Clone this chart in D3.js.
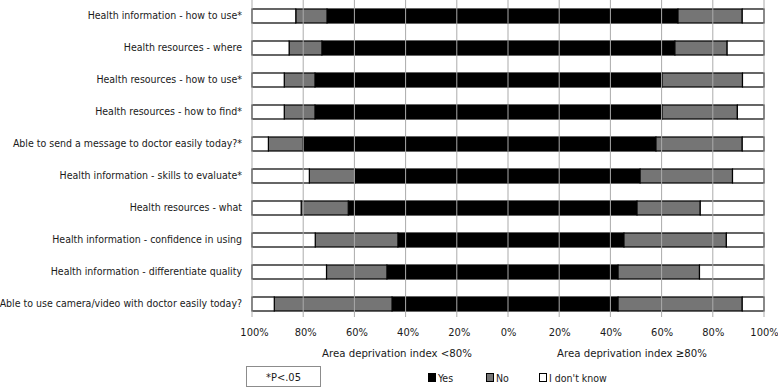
<!DOCTYPE html>
<html>
<head>
<meta charset="utf-8">
<script src="https://cdn.jsdelivr.net/npm/d3@7"></script>
<style>
  body { margin: 0; background: #fff; }
  svg text { font-family: "Liberation Sans Narrow", "DejaVu Sans Condensed", "Liberation Sans", sans-serif; font-stretch: condensed; fill: #1a1a1a; }
</style>
</head>
<body>
<div class="graph"></div>
<script>
const categories = [
  "Health information - how to use*",
  "Health resources - where",
  "Health resources - how to use*",
  "Health resources - how to find*",
  "Able to send a message to doctor easily today?*",
  "Health information - skills to evaluate*",
  "Health resources - what",
  "Health information - confidence in using",
  "Health information - differentiate quality",
  "Able to use camera/video with doctor easily today?"
];

// Area deprivation index <80% (left side)
const leftYes = [70.7, 72.7, 75.4, 75.4, 80.1, 59.8, 62.4, 43.0, 47.3, 45.3];
const leftNo  = [12.2, 12.8, 12.0, 12.0, 13.5, 17.8, 18.4, 32.3, 23.6, 46.0];
const leftDK  = [17.1, 14.5, 12.6, 12.6, 6.4, 22.4, 19.2, 24.7, 29.1, 8.7];

// Area deprivation index >=80% (right side)
const rightYes = [66.4, 65.2, 60.2, 60.2, 57.8, 51.6, 50.4, 45.3, 43.0, 43.0];
const rightNo  = [25.1, 20.4, 31.4, 29.4, 33.7, 36.1, 24.7, 40.0, 31.8, 48.5];
const rightDK  = [8.5, 14.4, 8.4, 10.4, 8.5, 12.3, 24.9, 14.7, 25.2, 8.5];

const leftTicks = [100, 80, 60, 40, 20];
const rightTicks = [0, 20, 40, 60, 80, 100];
const groupTitles = ["Area deprivation index <80%", "Area deprivation index \u226580%"];
const legendKeys = ["Yes", "No", "I don't know"];
const note = "*P<.05";

const width = 778, height = 388;
const plot = {left: 252, center: 508, right: 764, top: 0, bottom: 320};

const svg = d3.select(".graph").append("svg")
  .attr("width", width)
  .attr("height", height);

const keys = ["yes", "no", "dk"];
const colors = d3.scaleOrdinal().domain(keys).range(["#000000", "#757575", "#ffffff"]);

const xL = d3.scaleLinear().domain([100, 0]).range([plot.left, plot.center]);
const xR = d3.scaleLinear().domain([0, 100]).range([plot.center, plot.right]);
const y = d3.scaleBand().domain(categories).range([plot.top, plot.bottom])
  .paddingInner(0.5625).paddingOuter(0.28125);

const leftRows = categories.map((c, i) => ({cat: c, yes: leftYes[i], no: leftNo[i], dk: leftDK[i]}));
const rightRows = categories.map((c, i) => ({cat: c, yes: rightYes[i], no: rightNo[i], dk: rightDK[i]}));

const stack = d3.stack().keys(keys);

function drawSide(rows, x){
  const series = stack(rows);
  const g = svg.append("g");
  g.selectAll("g")
      .data(series)
    .enter().append("g")
      .attr("fill", d => colors(d.key))
    .selectAll("rect")
      .data(d => d)
    .enter().append("rect")
      .attr("x", d => Math.min(x(d[0]), x(d[1])))
      .attr("width", d => Math.abs(x(d[1]) - x(d[0])))
      .attr("y", d => y(d.data.cat))
      .attr("height", y.bandwidth())
      .attr("stroke", "#000")
      .attr("stroke-width", 1.2);
}

drawSide(leftRows, xL);
drawSide(rightRows, xR);

// gridlines drawn over the bars
const grid = svg.append("g").attr("stroke", "#ababab").attr("stroke-width", 1);
grid.selectAll("line.l")
    .data(leftTicks)
  .enter().append("line")
    .attr("x1", d => xL(d)).attr("x2", d => xL(d))
    .attr("y1", plot.top).attr("y2", 317);
grid.selectAll("line.r")
    .data(rightTicks.filter(d => d > 0))
  .enter().append("line")
    .attr("x1", d => xR(d)).attr("x2", d => xR(d))
    .attr("y1", plot.top).attr("y2", 317);
grid.append("line")
    .attr("x1", xR(0)).attr("x2", xR(0))
    .attr("y1", plot.top).attr("y2", 317);

// category labels
const yAxis = d3.axisLeft(y).tickSize(0).tickPadding(10);
svg.append("g")
    .attr("transform", "translate(" + plot.left + ",0)")
    .call(yAxis)
    .call(g => g.select(".domain").remove())
    .selectAll("text")
      .style("font-size", "10.5px");

// x tick labels
const xAxisL = d3.axisBottom(xL).tickValues(leftTicks).tickSize(0).tickFormat(d => d + "%");
const xAxisR = d3.axisBottom(xR).tickValues(rightTicks).tickSize(0).tickFormat(d => d + "%");
[[xAxisL, 2], [xAxisR, 0]].forEach(([ax, dx]) => {
  svg.append("g")
      .attr("transform", "translate(" + dx + ",325)")
      .call(ax)
      .call(g => g.select(".domain").remove())
      .selectAll("text")
        .style("font-size", "11px");
});

// group titles
svg.selectAll("text.title")
    .data(groupTitles)
  .enter().append("text")
    .attr("class", "title")
    .attr("x", (d, i) => i === 0 ? 397 : 632)
    .attr("y", 357)
    .attr("text-anchor", "middle")
    .style("font-size", "11.3px")
    .text(d => d);

// note box
svg.append("rect")
    .attr("x", 246.5).attr("y", 366.5)
    .attr("width", 74).attr("height", 20)
    .attr("fill", "#fff").attr("stroke", "#8c8c8c");
svg.append("text")
    .attr("x", 283.5).attr("y", 380.5)
    .attr("text-anchor", "middle")
    .style("font-size", "11px")
    .text(note);

// legend
const legendX = [428, 486, 539];
const legend = svg.selectAll("g.legend")
    .data(legendKeys)
  .enter().append("g")
    .attr("class", "legend")
    .attr("transform", (d, i) => "translate(" + legendX[i] + ",373)");
legend.append("rect")
    .attr("x", 0.5).attr("y", 0.5)
    .attr("width", 7).attr("height", 8)
    .attr("fill", (d, i) => colors(keys[i]))
    .attr("stroke", "#000");
legend.append("text")
    .attr("x", 10).attr("y", 8.5)
    .style("font-size", "10.5px")
    .text(d => d);
</script>
</body>
</html>
